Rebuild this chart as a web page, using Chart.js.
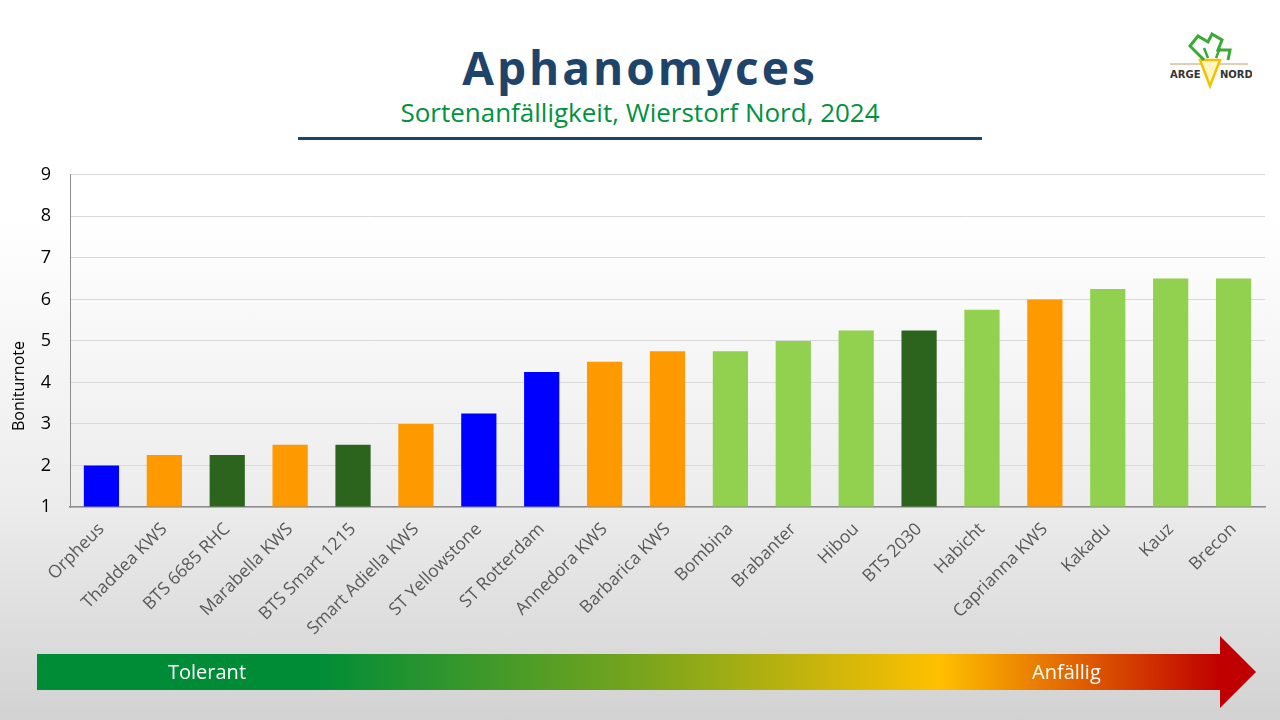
<!DOCTYPE html>
<html>
<head>
<meta charset="utf-8">
<script src="https://cdn.jsdelivr.net/npm/chart.js@4.4.1/dist/chart.umd.min.js"></script>
<style>
  html, body { margin: 0; padding: 0; }
  body {
    width: 1280px; height: 720px; overflow: hidden; position: relative;
    background: linear-gradient(to bottom, #ffffff 0%, #ffffff 30%, #ececec 70%, #d2d2d2 100%);
    font-family: "Open Sans", sans-serif;
  }
  #title {
    position: absolute; left: 0; width: 1280px; top: 37px; text-align: center;
    font-size: 46px; font-weight: bold; color: #1f4469; letter-spacing: 3px; line-height: 60px;
  }
  #subtitle {
    position: absolute; left: 0; width: 1280px; top: 94px; text-align: center;
    font-size: 26px; color: #00923f; line-height: 36px;
  }
  #rule { position: absolute; left: 298px; width: 684px; top: 137px; height: 3px; background: #1f4469; }
  #wrap { position: absolute; left: 0; top: 145px; width: 1280px; height: 495px; }
  #ytitle {
    position: absolute; left: 18px; top: 386px; font-size: 16px; color: #000; white-space: nowrap;
    transform: translate(-50%, -50%) rotate(-90deg);
  }
  #arrow {
    position: absolute; left: 37px; top: 636px; width: 1219px; height: 72px;
    clip-path: polygon(0 18px, 1183px 18px, 1183px 0, 1219px 36px, 1183px 72px, 1183px 54px, 0 54px);
    background: linear-gradient(to right, #008c37 0%, #008c37 23%, #7aa51c 50%, #ffc000 74%, #c00000 97%);
  }
  .al { position: absolute; top: 658px; color: #fff; font-size: 20px; line-height: 28px; }
  #logo { position: absolute; left: 1168px; top: 30px; }
</style>
</head>
<body>
<div id="title">Aphanomyces</div>
<div id="subtitle">Sortenanfälligkeit, Wierstorf Nord, 2024</div>
<div id="rule"></div>
<svg id="logo" width="84" height="60" viewBox="0 0 84 60">
  <line x1="2" y1="34" x2="80" y2="34" stroke="#c89a6a" stroke-width="1"/>
  <path d="M32 30 L42 56 L52 30 Z" fill="#fff5c0" stroke="#f2c200" stroke-width="2.5"/>
  <path d="M36 30 L22 16 L30 6 L40 12 L44 4 L54 10 L50 20 L62 20 L60 30" fill="none" stroke="#3aa935" stroke-width="3"/>
  <path d="M40 28 L36 18 M48 28 L52 18" stroke="#3aa935" stroke-width="2.5"/>
  <text x="2" y="48" font-family="DejaVu Sans" font-weight="bold" font-size="10" fill="#333">ARGE</text>
  <text x="52" y="48" font-family="DejaVu Sans" font-weight="bold" font-size="10" fill="#333">NORD</text>
</svg>
<div id="wrap"><canvas id="chart" width="1280" height="495"></canvas></div>
<div id="ytitle">Boniturnote</div>
<div id="arrow"></div>
<div class="al" style="left:168px">Tolerant</div>
<div class="al" style="left:1032px">Anfällig</div>
<script>
var sorten = ["Orpheus", "Thaddea KWS", "BTS 6685 RHC", "Marabella KWS", "BTS Smart 1215",
  "Smart Adiella KWS", "ST Yellowstone", "ST Rotterdam", "Annedora KWS", "Barbarica KWS",
  "Bombina", "Brabanter", "Hibou", "BTS 2030", "Habicht", "Caprianna KWS", "Kakadu", "Kauz", "Brecon"];
var noten = [2, 2.25, 2.25, 2.5, 2.5, 3, 3.25, 4.25, 4.5, 4.75, 4.75, 5, 5.25, 5.25, 5.75, 6, 6.25, 6.5, 6.5];
var gruppe = ["b", "o", "d", "o", "d", "o", "b", "b", "o", "o", "l", "l", "l", "d", "l", "o", "l", "l", "l"];
var farben = { b: "#0000ff", o: "#ff9900", d: "#2c641e", l: "#92d050" };

var ctx = document.getElementById("chart").getContext("2d");
var chart = new Chart(ctx, {
  type: "bar",
  data: {
    labels: sorten,
    datasets: [{
      data: noten,
      backgroundColor: gruppe.map(function (g) { return farben[g]; }),
      base: 1,
      categoryPercentage: 1,
      barPercentage: 0.56
    }]
  },
  options: {
    responsive: false,
    animation: false,
    devicePixelRatio: 1,
    layout: { padding: { top: 4, right: 15, left: 0, bottom: 0 } },
    plugins: { legend: { display: false }, tooltip: { enabled: false } },
    scales: {
      x: {
        grid: { display: false },
        border: { color: "#8c8c8c", width: 1.5 },
        ticks: { color: "#595959", font: { family: "Open Sans", size: 17.5 }, minRotation: 45, maxRotation: 45, padding: 4, autoSkip: false },
        afterFit: function (s) { s.height = 133; }
      },
      y: {
        min: 1, max: 9,
        ticks: { stepSize: 1, color: "#000", font: { family: "Open Sans", size: 18 }, padding: 19 },
        grid: { color: "#d9d9d9", lineWidth: 1, drawTicks: false },
        border: { color: "#8c8c8c", width: 1 },
        afterFit: function (s) { s.width = 70; }
      }
    }
  }
});
</script>
</body>
</html>
